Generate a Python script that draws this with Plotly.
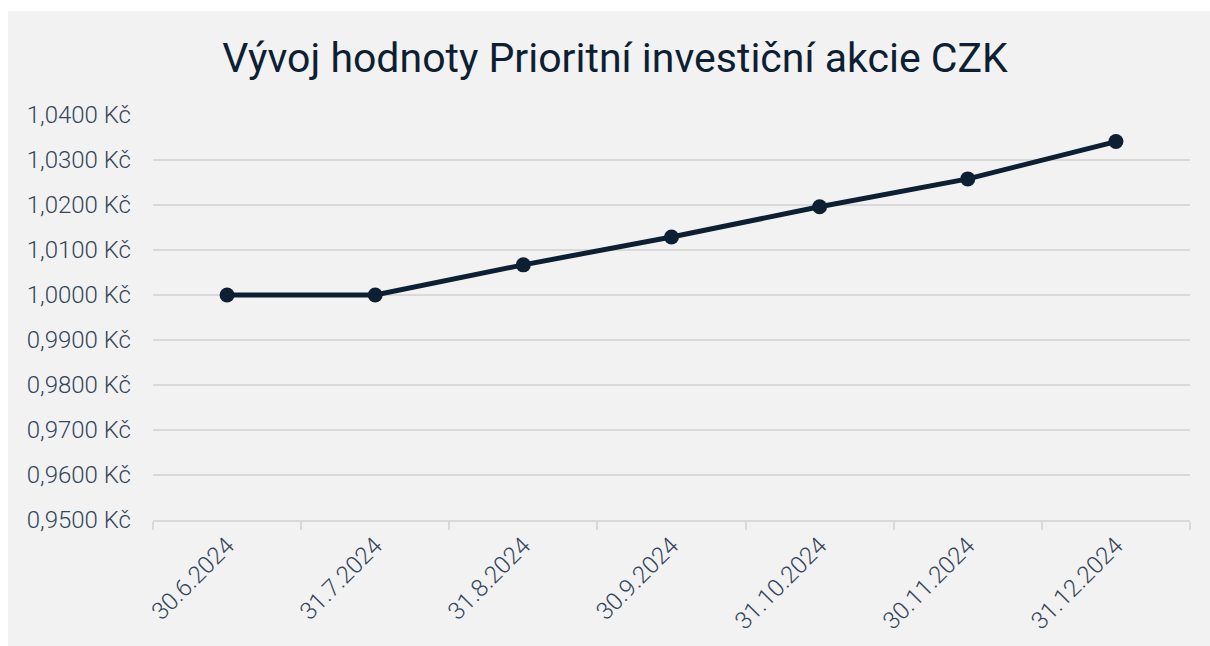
import plotly.graph_objects as go

dates = ["30.6.2024", "31.7.2024", "31.8.2024", "30.9.2024", "31.10.2024", "30.11.2024", "31.12.2024"]
values = [1.0000, 1.0000, 1.0067, 1.0129, 1.0196, 1.0258, 1.0341]
ytick_vals = [0.95, 0.96, 0.97, 0.98, 0.99, 1.00, 1.01, 1.02, 1.03, 1.04]
ytick_text = ["0,9500 Kč", "0,9600 Kč", "0,9700 Kč", "0,9800 Kč", "0,9900 Kč",
              "1,0000 Kč", "1,0100 Kč", "1,0200 Kč", "1,0300 Kč", "1,0400 Kč"]
title_text = "Vývoj hodnoty Prioritní investiční akcie CZK"

W, H = 1210, 646
L, R, T, B = 153, 20, 115, 126
pw, ph = W - L - R, H - T - B

navy = "#0d2033"
grid = "#d9d9d9"
panel = "#f2f2f2"
tickfont = dict(family="Roboto", size=24, color="#34465a", weight=300)

fig = go.Figure()
fig.add_trace(go.Scatter(
    x=dates, y=values, mode="lines+markers",
    line=dict(color=navy, width=5),
    marker=dict(color=navy, size=15),
    showlegend=False,
))

# white strips at the left and top edges
fig.add_shape(type="rect", xref="paper", yref="paper", layer="below",
              x0=-L / pw - 0.01, x1=(8 - L) / pw,
              y0=-B / ph - 0.01, y1=(H - B) / ph + 0.01,
              fillcolor="white", line=dict(width=0))
fig.add_shape(type="rect", xref="paper", yref="paper", layer="below",
              x0=-L / pw - 0.01, x1=(W - L) / pw + 0.01,
              y0=(H - B - 11) / ph, y1=(H - B) / ph + 0.01,
              fillcolor="white", line=dict(width=0))

fig.update_layout(
    width=W, height=H,
    margin=dict(l=L, r=R, t=T, b=B),
    paper_bgcolor=panel,
    plot_bgcolor="rgba(0,0,0,0)",
    title=dict(text=title_text, xref="container", yref="container",
               x=615 / W, xanchor="center", y=1 - 58 / H, yanchor="middle",
               font=dict(family="Roboto", size=41, color=navy)),
    xaxis=dict(type="category", tickson="boundaries", ticks="outside",
               ticklen=8, tickcolor=grid, tickwidth=2,
               showline=True, linecolor=grid, linewidth=2,
               showgrid=False, tickangle=-45, tickfont=tickfont,
               range=[-0.5, 6.5]),
    yaxis=dict(range=[0.95, 1.04], tickvals=ytick_vals, ticktext=ytick_text,
               showgrid=True, gridcolor=grid, gridwidth=1.5,
               zeroline=False, showline=False, ticks="", ticklabelstandoff=21,
               tickfont=tickfont),
)

fig.write_html(
    "out.html",
    config={"displayModeBar": False},
    post_script=("document.body.style.margin='0';"
                 "document.body.style.overflow='hidden';"
                 "document.body.style.background='%s';"
                 "document.documentElement.style.background='%s';") % (panel, panel),
)
